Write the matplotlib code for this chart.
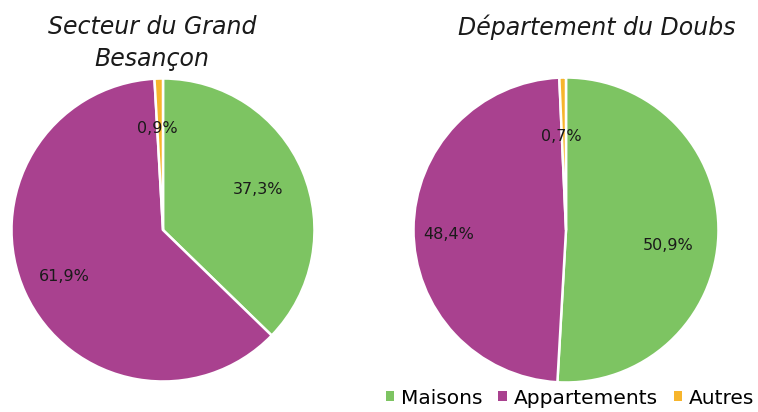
import matplotlib
matplotlib.use("Agg")
import matplotlib.pyplot as plt
from matplotlib.patches import Patch

categories = ["Maisons", "Appartements", "Autres"]
besancon_values = [37.3, 61.9, 0.9]
doubs_values = [50.9, 48.4, 0.7]
titles = ["Secteur du Grand\nBesançon", "Département du Doubs"]
colors = ["#7DC462", "#A9418F", "#F7B52C"]

plt.rcParams['font.family'] = ['DejaVu Sans']

fig = plt.figure(figsize=(7.58, 4.12), dpi=100)
ax1 = fig.add_axes([10/758, 1-383/412, 306/758, 306/412])
ax2 = fig.add_axes([412/758, 1-385/412, 308/758, 310/412])

label_pos = [
    [(0.63, 0.27), (-0.65, -0.31), (-0.04, 0.67)],
    [(0.67, -0.10), (-0.77, -0.03), (-0.03, 0.61)],
]

def fmt(v):
    return ("%.1f%%" % v).replace(".", ",")

for ax, vals, pos in [(ax1, besancon_values, label_pos[0]), (ax2, doubs_values, label_pos[1])]:
    ax.pie(vals, colors=colors, startangle=90, counterclock=False,
           wedgeprops=dict(edgecolor="white", linewidth=1.8))
    for v, (x, y) in zip(vals, pos):
        ax.text(x, y, fmt(v), ha="center", va="center", fontsize=11.5, color="#1a1a1a")
    ax.set_xlim(-1.01, 1.01)
    ax.set_ylim(-1.01, 1.01)
    ax.set_aspect("equal")
    ax.axis("off")

fig.text(152/758, 1-43/412, titles[0], ha="center", va="center", fontsize=17,
         style="italic", color="#1a1a1a", linespacing=1.4)
fig.text(597/758, 1-27/412, titles[1], ha="center", va="center", fontsize=17,
         style="italic", color="#1a1a1a")

handles = [Patch(facecolor=c, edgecolor="none") for c in colors]
fig.legend(handles, categories, loc="center", bbox_to_anchor=(570/758, 1-398/412),
           ncol=3, frameon=False, fontsize=14.5, handlelength=0.4, handleheight=0.4,
           handletextpad=0.35, columnspacing=0.8, borderpad=0, borderaxespad=0)

fig.savefig("out.png", dpi=100)
